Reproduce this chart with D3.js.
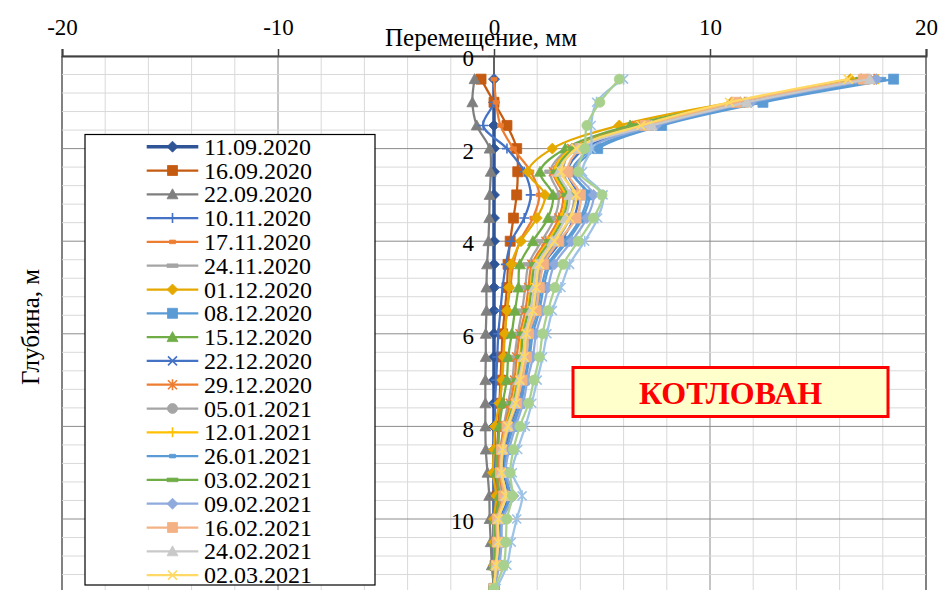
<!DOCTYPE html>
<html>
<head>
<meta charset="utf-8">
<script src="https://cdn.jsdelivr.net/npm/d3@7"></script>
<style>
  body { margin: 0; background: #fff; }
  svg { display: block; }
</style>
</head>
<body>
<svg id="chart" width="941" height="590"></svg>
<script>
// Inclinometer readings: horizontal displacement (mm) versus depth (m)
const depths = [0.5, 1.0, 1.5, 2.0, 2.5, 3.0, 3.5, 4.0, 4.5, 5.0, 5.5, 6.0,
                6.5, 7.0, 7.5, 8.0, 8.5, 9.0, 9.5, 10.0, 10.5, 11.0, 11.5];
const xTicks = [-20, -10, 0, 10, 20];
const yTicks = [0, 2, 4, 6, 8, 10];

const seriesLabels = [
  "11.09.2020", "16.09.2020", "22.09.2020", "10.11.2020", "17.11.2020", "24.11.2020",
  "01.12.2020", "08.12.2020", "15.12.2020", "22.12.2020", "29.12.2020", "05.01.2021",
  "12.01.2021", "26.01.2021", "03.02.2021", "09.02.2021", "16.02.2021", "24.02.2021",
  "02.03.2021", "", ""
];

const s01 = [0, 0, 0, 0, 0, 0, 0, 0, 0, 0, 0, 0, 0, 0, 0, 0, 0, 0, 0, 0, 0, 0, 0];
const s02 = [-0.6, 0.0, 0.6, 1.05, 1.1, 1.05, 0.9, 0.75, 0.65, 0.6, 0.5, 0.4, 0.35, 0.3, 0.25, 0.2, 0.15, 0.15, 0.15, 0.1, 0.1, 0.05, 0.0];
const s03 = [-0.9, -1.0, -0.8, -0.2, -0.15, -0.2, -0.22, -0.26, -0.32, -0.35, -0.35, -0.38, -0.38, -0.4, -0.4, -0.4, -0.38, -0.3, -0.22, -0.2, -0.15, -0.1, 0.0];
const s04 = [0.0, 0.0, -0.5, 0.6, 1.4, 1.7, 1.4, 0.8, 0.55, 0.4, 0.3, 0.2, 0.15, 0.1, 0.05, 0.05, 0.0, 0.0, 0.0, 0.0, 0.0, 0.0, 0.0];
const s05 = [0.0, 0.1, 0.3, 0.9, 1.7, 2.1, 1.8, 1.2, 0.9, 0.75, 0.6, 0.5, 0.4, 0.35, 0.3, 0.25, 0.2, 0.2, 0.2, 0.15, 0.1, 0.05, 0.0];
const s06 = [17.0, 11.5, 6.5, 3.5, 2.6, 3.0, 2.8, 2.2, 1.6, 1.45, 1.3, 1.1, 0.95, 0.85, 0.65, 0.45, 0.3, 0.25, 0.35, 0.15, 0.1, 0.05, 0.0];
const s07 = [16.5, 11.0, 5.8, 2.7, 1.57, 2.36, 1.98, 1.25, 0.8, 0.7, 0.6, 0.5, 0.45, 0.38, 0.25, 0.05, 0.0, -0.05, 0.1, 0.0, 0.0, 0.0, 0.0];
const s08 = [18.5, 12.45, 7.76, 4.8, 3.7, 4.3, 4.0, 3.3, 2.5, 2.2, 2.0, 1.7, 1.6, 1.4, 1.2, 0.85, 0.55, 0.45, 0.7, 0.3, 0.25, 0.15, 0.0];
const s09 = [17.0, 11.4, 6.3, 3.3, 2.13, 2.73, 2.5, 1.8, 1.2, 1.13, 0.97, 0.82, 0.66, 0.59, 0.4, 0.25, 0.15, 0.1, 0.25, 0.05, 0.05, 0.0, 0.0];
const s10 = [17.2, 11.6, 7.2, 4.2, 3.4, 3.9, 3.7, 3.1, 2.3, 2.0, 1.85, 1.6, 1.45, 1.3, 1.1, 0.75, 0.5, 0.4, 0.6, 0.25, 0.2, 0.15, 0.0];
const s11 = [17.6, 11.6, 6.6, 3.6, 2.75, 3.2, 3.0, 2.4, 1.75, 1.6, 1.45, 1.2, 1.05, 0.95, 0.75, 0.5, 0.3, 0.25, 0.4, 0.15, 0.1, 0.1, 0.0];
const s12 = [17.3, 11.7, 7.3, 3.7, 3.2, 3.7, 3.5, 2.9, 2.2, 2.0, 1.85, 1.55, 1.45, 1.25, 1.05, 0.7, 0.45, 0.35, 0.55, 0.2, 0.2, 0.1, 0.0];
const s13 = [17.8, 11.8, 6.9, 3.6, 2.8, 3.3, 3.1, 2.5, 1.85, 1.7, 1.55, 1.3, 1.2, 1.05, 0.85, 0.55, 0.35, 0.3, 0.45, 0.15, 0.15, 0.1, 0.0];
const s14 = [18.0, 12.1, 7.6, 4.6, 3.6, 4.4, 4.1, 3.4, 2.6, 2.3, 2.1, 1.8, 1.65, 1.45, 1.25, 0.9, 0.6, 0.5, 0.75, 0.35, 0.3, 0.2, 0.0];
const s15 = [17.0, 11.3, 6.6, 3.7, 2.9, 3.4, 3.2, 2.6, 1.9, 1.75, 1.6, 1.35, 1.25, 1.1, 0.9, 0.6, 0.4, 0.3, 0.5, 0.2, 0.15, 0.1, 0.0];
const s16 = [17.7, 11.9, 7.5, 4.4, 3.8, 4.6, 4.3, 3.6, 2.8, 2.5, 2.25, 1.95, 1.8, 1.55, 1.35, 1.0, 0.7, 0.55, 0.9, 0.4, 0.35, 0.25, 0.0];
const s17 = [17.1, 11.2, 7.0, 4.0, 3.4, 4.0, 3.8, 3.0, 2.3, 2.1, 1.95, 1.6, 1.5, 1.3, 1.05, 0.6, 0.35, 0.3, 0.45, 0.15, 0.15, 0.1, 0.0];
const s18 = [17.4, 11.7, 7.3, 3.9, 3.0, 3.5, 3.3, 2.7, 2.0, 1.85, 1.7, 1.45, 1.35, 1.15, 0.95, 0.65, 0.4, 0.35, 0.55, 0.2, 0.2, 0.1, 0.0];
const s19 = [16.4, 10.9, 6.8, 3.8, 3.1, 3.8, 3.5, 2.8, 2.1, 1.95, 1.8, 1.5, 1.4, 1.2, 1.0, 0.65, 0.4, 0.35, 0.55, 0.2, 0.2, 0.1, 0.0];
const s20 = [6.0, 4.75, 4.5, 4.5, 4.1, 5.05, 4.8, 4.2, 3.5, 3.1, 2.7, 2.45, 2.25, 2.0, 1.75, 1.45, 1.1, 0.85, 1.3, 1.05, 0.8, 0.6, 0.1];
const s21 = [5.8, 4.9, 4.3, 4.2, 3.9, 5.0, 4.6, 3.9, 3.2, 2.82, 2.5, 2.25, 2.1, 1.85, 1.6, 1.2, 0.9, 0.75, 0.85, 0.6, 0.55, 0.45, 0.0];

const seriesValues = [s01, s02, s03, s04, s05, s06, s07, s08, s09, s10, s11,
                      s12, s13, s14, s15, s16, s17, s18, s19, s20, s21];

const seriesColors = [
  "#2F5597", "#C55A11", "#7F7F7F", "#4472C4", "#ED7D31", "#A5A5A5",
  "#E5A800", "#5B9BD5", "#70AD47", "#4472C4", "#ED7D31", "#A5A5A5",
  "#FFC000", "#5B9BD5", "#70AD47", "#8FAADC", "#F4B183", "#C9C9C9",
  "#FFD966", "#9DC3E6", "#A9D18E"
];
const seriesMarkers = [
  "diamond", "square", "triangle", "plus", "dashS", "dashL",
  "diamond", "square", "triangle", "x", "star", "circle",
  "plus", "dashS", "dashL", "diamond", "square", "triangle",
  "x", "star", "circle"
];
const seriesWidths = seriesValues.map((_, i) => i === 0 ? 3.5 : 2.25);

// ---------- layout ----------
const svg = d3.select("#chart");
const x = d3.scaleLinear().domain([-20, 20]).range([62, 926]);
const y = d3.scaleLinear().domain([0, 12]).range([56, 56 + 12 * 46.3]);
const serif = "Liberation Serif, Times New Roman, serif";

// ---------- gridlines ----------
const grid = svg.append("g");
const xMinor = d3.range(-20, 21, 2);
const yMinor = d3.range(0, 31).map(i => +(i * 0.4).toFixed(1));

grid.selectAll("line.vx").data(xMinor).join("line")
  .attr("x1", d => x(d)).attr("x2", d => x(d))
  .attr("y1", y(0)).attr("y2", y(12))
  .attr("stroke", d => (d % 10 === 0) ? (Math.abs(d) === 20 ? "#595959" : "#8C8C8C") : "#D9D9D9")
  .attr("stroke-width", d => Math.abs(d) === 20 ? 1.5 : 1);

grid.selectAll("line.hy").data(yMinor).join("line")
  .attr("x1", x(-20)).attr("x2", x(20))
  .attr("y1", d => y(d)).attr("y2", d => y(d))
  .attr("stroke", d => (Math.abs(d % 2) < 1e-6) ? "#8C8C8C" : "#D9D9D9")
  .attr("stroke-width", 1);

// ---------- axes ----------
const xAxis = d3.axisTop(x).tickValues(xTicks).tickSize(7).tickPadding(14).tickFormat(d3.format("d"));
const gx = svg.append("g").attr("transform", `translate(0,${y(0)})`).call(xAxis);
gx.select(".domain").attr("stroke", "#404040").attr("stroke-width", 2);
gx.selectAll(".tick line").attr("stroke", "#404040").attr("stroke-width", 1.5);
gx.selectAll(".tick text").attr("font-family", serif).attr("font-size", 23).attr("fill", "#000")
  .text(d => d < 0 ? "-" + Math.abs(d) : d);

const yAxis = d3.axisLeft(y).tickValues(yTicks).tickSize(6).tickPadding(14).tickFormat(d3.format("d"));
const gy = svg.append("g").attr("transform", `translate(${x(0)},0)`).call(yAxis);
gy.select(".domain").attr("stroke", "#404040").attr("stroke-width", 1.5)
  .attr("d", `M0,${y(0)}V${y(12)}`);
gy.selectAll(".tick line").attr("stroke", "#404040").attr("stroke-width", 1.2);
gy.selectAll(".tick text").attr("font-family", serif).attr("font-size", 23).attr("fill", "#000")
  .attr("dy", "0.42em");

// axis titles
svg.append("text").attr("x", 481).attr("y", 46).attr("text-anchor", "middle")
  .attr("font-family", serif).attr("font-size", 25).text("Перемещение, мм");
svg.append("text").attr("transform", "translate(39,327) rotate(-90)").attr("text-anchor", "middle")
  .attr("font-family", serif).attr("font-size", 25).text("Глубина, м");

// ---------- markers ----------
function markerPath(type) {
  switch (type) {
    case "diamond": return "M0,-5.5L5.5,0L0,5.5L-5.5,0Z";
    case "square": return "M-5,-5H5V5H-5Z";
    case "triangle": return "M0,-5.5L5.5,4.5H-5.5Z";
    case "circle": return "M-5,0A5,5 0 1,0 5,0A5,5 0 1,0 -5,0Z";
    case "dashS": return "M-3,-1.8H3V1.8H-3Z";
    case "dashL": return "M-5.5,-1.8H5.5V1.8H-5.5Z";
    case "x": return "M-4.5,-4.5L4.5,4.5M-4.5,4.5L4.5,-4.5";
    case "plus": return "M-5,0H5M0,-5V5";
    case "star": return "M-4.5,-4.5L4.5,4.5M-4.5,4.5L4.5,-4.5M0,-5.5V5.5";
  }
}
const strokeMarkers = new Set(["x", "plus", "star"]);

function drawMarker(g, type, color) {
  const p = g.append("path").attr("d", markerPath(type));
  if (strokeMarkers.has(type)) {
    p.attr("fill", "none").attr("stroke", color).attr("stroke-width", 1.6);
  } else {
    p.attr("fill", color).attr("stroke", color).attr("stroke-width", 0.8);
  }
}

// ---------- series ----------
const line = d3.line()
  .x(d => x(d.v))
  .y(d => y(d.depth))
  .curve(d3.curveCatmullRom.alpha(0.5));

const seriesG = svg.append("g");
seriesValues.forEach((vals, i) => {
  const pts = vals.map((v, k) => ({ v, depth: depths[k] }));
  const g = seriesG.append("g");
  g.append("path").datum(pts).attr("d", line)
    .attr("fill", "none").attr("stroke", seriesColors[i])
    .attr("stroke-width", seriesWidths[i]).attr("stroke-linejoin", "round");
  pts.forEach(p => {
    const mg = g.append("g").attr("transform", `translate(${x(p.v)},${y(p.depth)})`);
    drawMarker(mg, seriesMarkers[i], seriesColors[i]);
  });
});

// ---------- legend ----------
const legendItems = seriesLabels.map((label, i) => ({ label, i })).filter(d => d.label);
const legend = svg.append("g");
legend.append("rect").attr("x", 85).attr("y", 134.5).attr("width", 290).attr("height", 450.5)
  .attr("fill", "#fff").attr("stroke", "#000").attr("stroke-width", 1.2);
legendItems.forEach((d, k) => {
  const ly = 146.7 + k * 23.8;
  const row = legend.append("g");
  row.append("line").attr("x1", 146.7).attr("x2", 198.3).attr("y1", ly).attr("y2", ly)
    .attr("stroke", seriesColors[d.i]).attr("stroke-width", seriesWidths[d.i]);
  drawMarker(row.append("g").attr("transform", `translate(172.5,${ly})`), seriesMarkers[d.i], seriesColors[d.i]);
  row.append("text").attr("x", 204).attr("y", ly + 8)
    .attr("font-family", serif).attr("font-size", 24).attr("fill", "#000").text(d.label);
});

// ---------- excavation label ----------
const note = svg.append("g");
note.append("rect").attr("x", 573).attr("y", 367.5).attr("width", 315).attr("height", 49)
  .attr("fill", "#FFFFCC").attr("stroke", "#FF0000").attr("stroke-width", 3);
note.append("text").attr("x", 730.5).attr("y", 404).attr("text-anchor", "middle")
  .attr("font-family", serif).attr("font-weight", "bold").attr("font-size", 32)
  .attr("fill", "#FF0000").text("КОТЛОВАН");
</script>
</body>
</html>
